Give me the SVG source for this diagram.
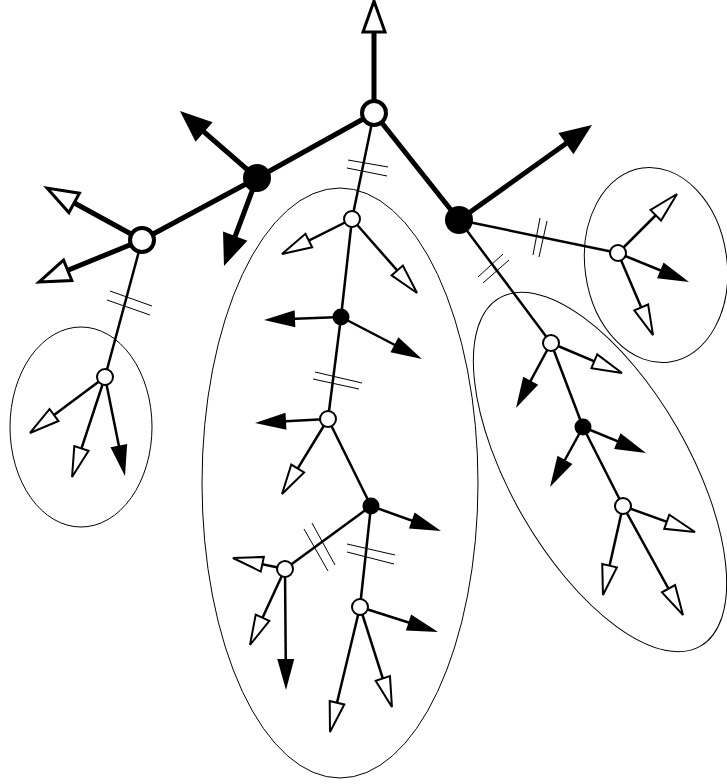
<svg xmlns="http://www.w3.org/2000/svg" width="727" height="784" viewBox="0 0 727 784">
<style>
.bg{fill:#fff}
.grp{fill:none;stroke:#000;stroke-width:1}
.thick{fill:none;stroke:#000;stroke-width:5}
.thin{fill:none;stroke:#000;stroke-width:2.5}
.hash{fill:none;stroke:#000;stroke-width:1}
.ob{fill:#fff;stroke:#000;stroke-width:4}
.fb{fill:#000}
.os{fill:#fff;stroke:#000;stroke-width:2}
.fs{fill:#000}
</style>
<defs>
<marker id="tkO" markerUnits="userSpaceOnUse" orient="auto" refX="0" refY="0" markerWidth="1" markerHeight="1" overflow="visible"><path d="M12,0 L-19,-11 L-19,11 Z" fill="#fff" stroke="#000" stroke-width="3"/></marker>
<marker id="tkF" markerUnits="userSpaceOnUse" orient="auto" refX="0" refY="0" markerWidth="1" markerHeight="1" overflow="visible"><path d="M12,0 L-20,-13 L-20,13 Z" fill="#000"/></marker>
<marker id="tnO" markerUnits="userSpaceOnUse" orient="auto" refX="0" refY="0" markerWidth="1" markerHeight="1" overflow="visible"><path d="M12,0 L-18,-7.5 L-18,7.5 Z" fill="#fff" stroke="#000" stroke-width="2"/></marker>
<marker id="tnF" markerUnits="userSpaceOnUse" orient="auto" refX="0" refY="0" markerWidth="1" markerHeight="1" overflow="visible"><path d="M12,0 L-19,-8.5 L-19,8.5 Z" fill="#000"/></marker>
</defs>
<rect class="bg" x="0" y="0" width="727" height="784"/>
<g id="groups">
<ellipse class="grp" cx="81" cy="427" rx="71" ry="100"/>
<ellipse class="grp" cx="340" cy="483" rx="138" ry="295"/>
<ellipse class="grp" cx="656" cy="265" rx="71" ry="98" transform="rotate(-8 656 265)"/>
<ellipse class="grp" cx="600" cy="472" rx="89" ry="201" transform="rotate(-30 600 472)"/>
</g>
<g id="connectors">
<line class="thick" x1="374" y1="113" x2="257" y2="178"/>
<line class="thick" x1="257" y1="178" x2="142" y2="240"/>
<line class="thick" x1="374" y1="113" x2="459" y2="220"/>
<line class="thin" x1="142" y1="240" x2="105" y2="377"/>
<line class="thin" x1="374" y1="113" x2="352" y2="219"/>
<line class="thin" x1="352" y1="219" x2="341" y2="317"/>
<line class="thin" x1="341" y1="317" x2="328" y2="419"/>
<line class="thin" x1="328" y1="419" x2="371" y2="506"/>
<line class="thin" x1="371" y1="506" x2="285" y2="569"/>
<line class="thin" x1="371" y1="506" x2="360" y2="607"/>
<line class="thin" x1="459" y1="220" x2="618" y2="253"/>
<line class="thin" x1="459" y1="220" x2="551" y2="343"/>
<line class="thin" x1="551" y1="343" x2="583" y2="427"/>
<line class="thin" x1="583" y1="427" x2="623" y2="506"/>
<g id="hashes">
<line class="hash" x1="348" y1="160" x2="388" y2="167"/><line class="hash" x1="347" y1="168" x2="387" y2="176"/>
<line class="hash" x1="110" y1="291" x2="152" y2="306"/><line class="hash" x1="107" y1="300" x2="150" y2="315"/>
<line class="hash" x1="315" y1="372" x2="362" y2="383"/><line class="hash" x1="313" y1="379" x2="359" y2="389"/>
<line class="hash" x1="304" y1="529" x2="328" y2="571"/><line class="hash" x1="312" y1="523" x2="335" y2="565"/>
<line class="hash" x1="347" y1="544" x2="395" y2="555"/><line class="hash" x1="347" y1="552" x2="394" y2="564"/>
<line class="hash" x1="533" y1="255" x2="540" y2="218"/><line class="hash" x1="539" y1="257" x2="547" y2="221"/>
<line class="hash" x1="478" y1="277" x2="503" y2="254"/><line class="hash" x1="483" y1="283" x2="509" y2="260"/>
</g>
<g id="arrows">
<line class="thick" x1="374" y1="113" x2="374" y2="13" marker-end="url(#tkO)"/>
<line class="thick" x1="257" y1="178" x2="189" y2="118.9" marker-end="url(#tkF)"/>
<line class="thick" x1="257" y1="178" x2="228.2" y2="254.8" marker-end="url(#tkF)"/>
<line class="thick" x1="142" y1="240" x2="57.5" y2="193.8" marker-end="url(#tkO)"/>
<line class="thick" x1="142" y1="240" x2="50.1" y2="277.5" marker-end="url(#tkO)"/>
<line class="thick" x1="459" y1="220" x2="582.2" y2="132" marker-end="url(#tkF)"/>
<line class="thin" x1="105" y1="377" x2="39.6" y2="425.8" marker-end="url(#tnO)"/>
<line class="thin" x1="105" y1="377" x2="75.8" y2="465.6" marker-end="url(#tnO)"/>
<line class="thin" x1="105" y1="377" x2="122.6" y2="464.2" marker-end="url(#tnF)"/>
<line class="thin" x1="352" y1="219" x2="292.7" y2="248.6" marker-end="url(#tnO)"/>
<line class="thin" x1="352" y1="219" x2="409.1" y2="284" marker-end="url(#tnO)"/>
<line class="thin" x1="341" y1="317" x2="276" y2="319.5" marker-end="url(#tnF)"/>
<line class="thin" x1="341" y1="317" x2="411.3" y2="353.5" marker-end="url(#tnF)"/>
<line class="thin" x1="328" y1="419" x2="267" y2="422.3" marker-end="url(#tnF)"/>
<line class="thin" x1="328" y1="419" x2="288.3" y2="483.8" marker-end="url(#tnO)"/>
<line class="thin" x1="371" y1="506" x2="429.7" y2="527" marker-end="url(#tnF)"/>
<line class="thin" x1="285" y1="569" x2="244.7" y2="560.5" marker-end="url(#tnO)"/>
<line class="thin" x1="285" y1="569" x2="255" y2="634.1" marker-end="url(#tnO)"/>
<line class="thin" x1="285" y1="569" x2="285.9" y2="678" marker-end="url(#tnF)"/>
<line class="thin" x1="360" y1="607" x2="426.6" y2="628.3" marker-end="url(#tnF)"/>
<line class="thin" x1="360" y1="607" x2="332.8" y2="720.3" marker-end="url(#tnO)"/>
<line class="thin" x1="360" y1="607" x2="388.3" y2="695.6" marker-end="url(#tnO)"/>
<line class="thin" x1="618" y1="253" x2="668.5" y2="202.5" marker-end="url(#tnO)"/>
<line class="thin" x1="618" y1="253" x2="677.9" y2="277.5" marker-end="url(#tnF)"/>
<line class="thin" x1="618" y1="253" x2="648.3" y2="324" marker-end="url(#tnO)"/>
<line class="thin" x1="551" y1="343" x2="521.7" y2="397.4" marker-end="url(#tnF)"/>
<line class="thin" x1="551" y1="343" x2="610.9" y2="368.3" marker-end="url(#tnO)"/>
<line class="thin" x1="583" y1="427" x2="634.9" y2="448.4" marker-end="url(#tnF)"/>
<line class="thin" x1="583" y1="427" x2="555.8" y2="476.5" marker-end="url(#tnF)"/>
<line class="thin" x1="623" y1="506" x2="683.7" y2="527.9" marker-end="url(#tnO)"/>
<line class="thin" x1="623" y1="506" x2="605.6" y2="583.3" marker-end="url(#tnO)"/>
<line class="thin" x1="623" y1="506" x2="677.2" y2="604.5" marker-end="url(#tnO)"/>
</g>
</g>
<g id="nA"><circle class="ob" cx="374" cy="113" r="12"/></g>
<g id="nB"><circle class="fb" cx="257" cy="178" r="14"/></g>
<g id="nC"><circle class="ob" cx="142" cy="240" r="12"/></g>
<g id="nD"><circle class="fb" cx="459" cy="220" r="14"/></g>
<g id="nG"><circle class="os" cx="105" cy="377" r="8"/></g>
<g id="nH"><circle class="os" cx="352" cy="219" r="8"/></g>
<g id="nI"><circle class="fs" cx="341" cy="317" r="8.5"/></g>
<g id="nJ"><circle class="os" cx="328" cy="419" r="8"/></g>
<g id="nK"><circle class="fs" cx="371" cy="506" r="8.5"/></g>
<g id="nL"><circle class="os" cx="285" cy="569" r="8"/></g>
<g id="nM"><circle class="os" cx="360" cy="607" r="8"/></g>
<g id="nE"><circle class="os" cx="618" cy="253" r="8"/></g>
<g id="nF"><circle class="os" cx="551" cy="343" r="8"/></g>
<g id="nN"><circle class="fs" cx="583" cy="427" r="8.5"/></g>
<g id="nO"><circle class="os" cx="623" cy="506" r="8"/></g>
</svg>
